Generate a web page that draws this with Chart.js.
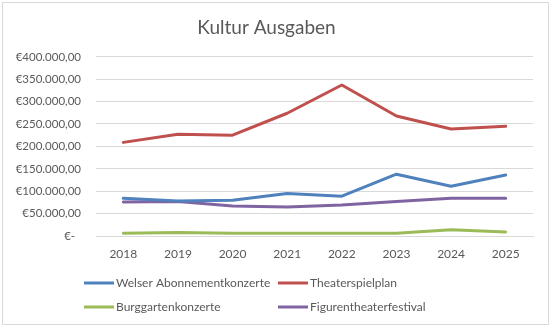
<!DOCTYPE html>
<html>
<head>
<meta charset="utf-8">
<script src="https://cdn.jsdelivr.net/npm/chart.js@4"></script>
<style>
  html, body { margin: 0; padding: 0; background: #ffffff; }
  #wrap { width: 551px; height: 331px; position: relative; }
</style>
</head>
<body>
<div id="wrap"><canvas id="c" width="551" height="331"></canvas></div>
<script>
const chartTitle = 'Kultur Ausgaben';
const categories = ['2018', '2019', '2020', '2021', '2022', '2023', '2024', '2025'];
const seriesNames = ['Welser Abonnementkonzerte', 'Theaterspielplan', 'Burggartenkonzerte', 'Figurentheaterfestival'];
const welser = [84000, 78000, 80000, 95000, 89000, 138000, 111000, 136000];
const theater = [209000, 227000, 225000, 274000, 337000, 268000, 239000, 245000];
const burggarten = [6000, 8000, 6000, 6000, 6000, 6000, 14000, 9000];
const figuren = [76000, 77000, 67000, 65000, 69000, 77000, 84000, 84000];
const yTickValues = [0, 50000, 100000, 150000, 200000, 250000, 300000, 350000, 400000];
const yTickLabels = ['€-  ', '€50.000,00', '€100.000,00', '€150.000,00', '€200.000,00', '€250.000,00', '€300.000,00', '€350.000,00', '€400.000,00'];
const seriesColors = ['#4f81bd', '#c0504d', '#9bbb59', '#8064a2'];

const FONT = 'Lato, "Open Sans", sans-serif';
const TEXT = '#595959';

const frame = {
  id: 'frame',
  beforeDraw(chart) {
    const ctx = chart.ctx;
    ctx.save();
    ctx.fillStyle = '#ffffff';
    ctx.fillRect(0, 0, chart.width, chart.height);
    ctx.strokeStyle = '#d9d9d9';
    ctx.lineWidth = 1;
    ctx.strokeRect(2.5, 2.5, 546, 322);
    ctx.restore();
  }
};

const customLegend = {
  id: 'customLegend',
  afterDraw(chart) {
    const ctx = chart.ctx;
    const cols = [84, 278];
    const rows = [283, 307];
    ctx.save();
    ctx.font = '12px ' + FONT;
    ctx.textBaseline = 'middle';
    ctx.textAlign = 'left';
    chart.data.datasets.forEach((ds, i) => {
      const x = cols[i % 2];
      const y = rows[Math.floor(i / 2)];
      ctx.strokeStyle = ds.borderColor;
      ctx.lineWidth = 3;
      ctx.lineCap = 'butt';
      ctx.beginPath();
      ctx.moveTo(x, y);
      ctx.lineTo(x + 30, y);
      ctx.stroke();
      ctx.fillStyle = TEXT;
      ctx.fillText(ds.label, x + 32, y);
    });
    ctx.restore();
  }
};

const seriesData = [welser, theater, burggarten, figuren];

new Chart(document.getElementById('c'), {
  type: 'line',
  data: {
    labels: categories,
    datasets: seriesNames.map((name, i) => ({
      label: name,
      data: seriesData[i],
      borderColor: seriesColors[i],
      backgroundColor: seriesColors[i],
      borderWidth: 3,
      pointRadius: 0,
      tension: 0,
      borderCapStyle: 'round',
      borderJoinStyle: 'round',
      fill: false
    }))
  },
  options: {
    responsive: false,
    animation: false,
    layout: { padding: { left: 0, right: 18, top: 0, bottom: 70 } },
    plugins: {
      legend: { display: false },
      tooltip: { enabled: false },
      title: {
        display: true,
        text: chartTitle,
        color: TEXT,
        font: { family: FONT, size: 19, weight: 'normal', lineHeight: 1.2 },
        padding: { top: 16, bottom: 18 }
      }
    },
    scales: {
      x: {
        offset: true,
        afterFit(scale) { scale.height = 25; },
        grid: { display: false, drawTicks: false },
        border: { display: true, color: '#d9d9d9', width: 1 },
        ticks: { color: TEXT, font: { family: FONT, size: 12 }, padding: 11, maxRotation: 0 }
      },
      y: {
        min: 0,
        max: 400000,
        afterFit(scale) { scale.width = 96; },
        afterBuildTicks(scale) { scale.ticks = yTickValues.map(v => ({ value: v })); },
        grid: { color: '#d9d9d9', lineWidth: 1, drawTicks: false },
        border: { display: false },
        ticks: {
          color: TEXT,
          font: { family: FONT, size: 11.5 },
          padding: 15,
          callback: (v, i) => yTickLabels[i]
        }
      }
    }
  },
  plugins: [frame, customLegend]
});
</script>
</body>
</html>
